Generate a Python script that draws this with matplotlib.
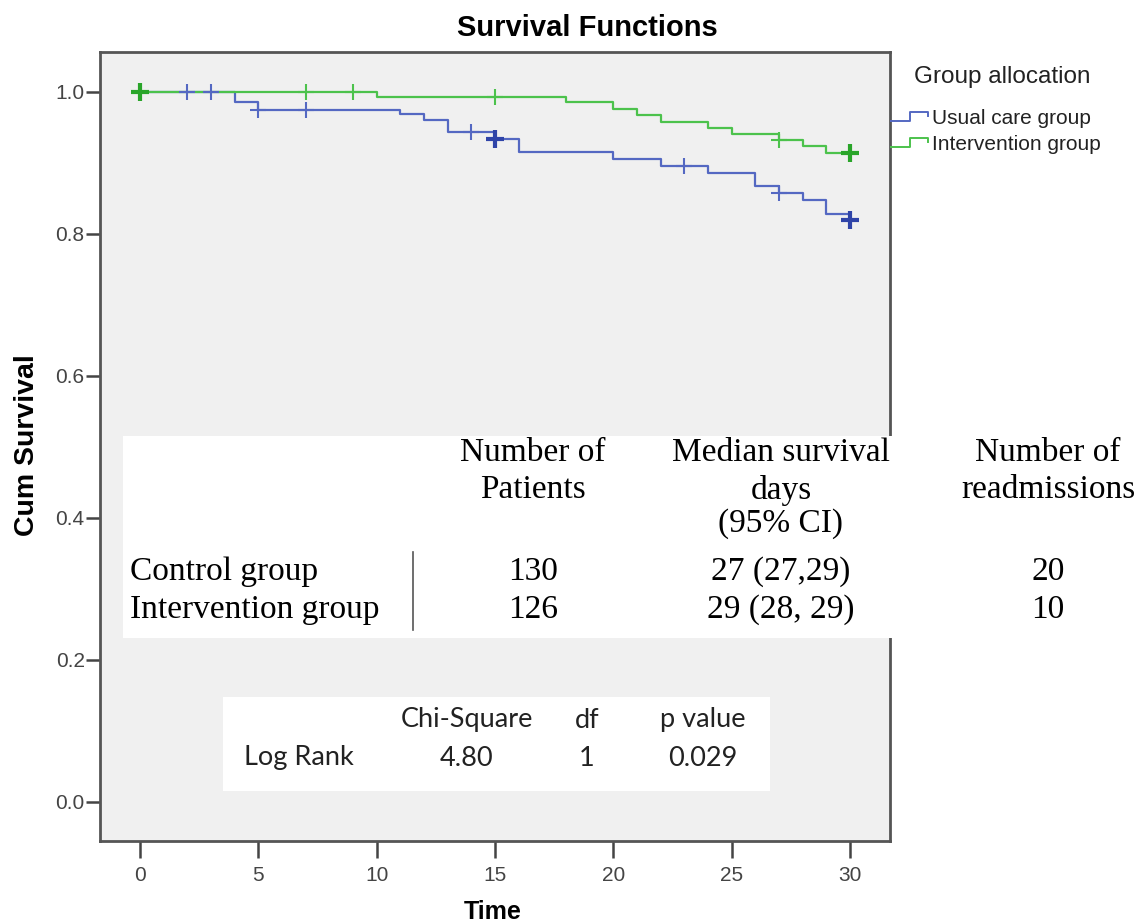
import matplotlib
matplotlib.use("Agg")
import matplotlib.pyplot as plt
from matplotlib.patches import Rectangle
from matplotlib.lines import Line2D

# Kaplan-Meier steps
uc_time = [0, 4, 5, 11, 12, 13, 15, 16, 20, 22, 24, 26, 27, 28, 29, 30]
uc_surv = [1.0, 0.985, 0.975, 0.969, 0.960, 0.943, 0.933, 0.915, 0.905,
           0.896, 0.886, 0.867, 0.857, 0.848, 0.828, 0.820]
uc_cens_t = [2, 3, 5, 7, 14, 23, 27]
uc_cens_s = [1.0, 1.0, 0.975, 0.975, 0.943, 0.896, 0.857]
uc_multi_t = [15, 30]
uc_multi_s = [0.933, 0.820]

iv_time = [0, 10, 18, 20, 21, 22, 24, 25, 27, 28, 29, 30]
iv_surv = [1.0, 0.9925, 0.985, 0.976, 0.967, 0.958, 0.949, 0.941, 0.932,
           0.923, 0.914, 0.914]
iv_cens_t = [7, 9, 15, 27]
iv_cens_s = [1.0, 1.0, 0.9925, 0.932]
iv_multi_t = [0, 30]
iv_multi_s = [1.0, 0.914]

col_heads = [["Number of", "Patients"],
             ["Median survival", "days", "(95% CI)"],
             ["Number of", "readmissions"]]
row_names = ["Control group", "Intervention group"]
n_patients = ["130", "126"]
median_ci = ["27 (27,29)", "29 (28, 29)"]
readmissions = ["20", "10"]

lr_heads = ["Chi-Square", "df", "p value"]
lr_values = ["4.80", "1", "0.029"]

blue = "#5468c2"
blue_dark = "#2f44a8"
green = "#4cc24c"
green_dark = "#2aa52a"

W, H = 1135, 924
def fx(x):
    return x / W
def fy(y):
    return 1 - y / H

sans = ["Liberation Sans", "DejaVu Sans"]
serif = ["Liberation Serif", "DejaVu Serif"]
calib = ["Lato", "DejaVu Sans"]

fig = plt.figure(figsize=(W / 100, H / 100), dpi=100)
ax = fig.add_axes([fx(100), fy(841), fx(890) - fx(100), fy(52) - fy(841)])
ax.set_facecolor("#f0f0f0")

ax.step(uc_time, uc_surv, where="post", color=blue, lw=1.6)
ax.step(iv_time, iv_surv, where="post", color=green, lw=1.6)
ax.plot(uc_cens_t, uc_cens_s, "+", color=blue, ms=12, mew=1.5)
ax.plot(uc_multi_t, uc_multi_s, "+", color=blue_dark, ms=13, mew=3)
ax.plot(iv_cens_t, iv_cens_s, "+", color=green, ms=12, mew=1.5)
ax.plot(iv_multi_t, iv_multi_s, "+", color=green_dark, ms=13, mew=3)

ax.set_xlim(-1.69, 31.69)
ax.set_ylim(-0.055, 1.056)
ax.set_xticks([0, 5, 10, 15, 20, 25, 30])
ax.set_yticks([0.0, 0.2, 0.4, 0.6, 0.8, 1.0])
ax.set_yticklabels(["0.0", "0.2", "0.4", "0.6", "0.8", "1.0"])
ax.tick_params(axis="x", length=12, width=1.8, color="#444444", pad=6,
               labelsize=15, labelcolor="#444444")
ax.tick_params(axis="y", length=10, width=1.8, color="#444444", pad=1,
               labelsize=15, labelcolor="#444444")
for lab in ax.get_xticklabels() + ax.get_yticklabels():
    lab.set_family(sans)
for sp in ax.spines.values():
    sp.set_color("#555555")
    sp.set_linewidth(2)

fig.text(fx(587), fy(28), "Survival Functions", ha="center", va="center",
         fontsize=21, fontweight="bold", family=sans)
fig.text(fx(27), fy(445), "Cum Survival", ha="center", va="center",
         rotation=90, fontsize=20.5, fontweight="bold", family=sans)
fig.text(fx(493), fy(912), "Time", ha="center", va="center",
         fontsize=18, fontweight="bold", family=sans)

# legend outside the plot
fig.text(fx(1002), fy(77), "Group allocation", ha="center", va="center",
         fontsize=17.5, family=sans, color="#222222")
for i, (lab, c) in enumerate([("Usual care group", blue), ("Intervention group", green)]):
    dy = i * 26
    xs = [891, 910, 910, 928, 928]
    ys = [121 + dy, 121 + dy, 112 + dy, 112 + dy, 116 + dy]
    fig.lines.append(Line2D([fx(x) for x in xs], [fy(y) for y in ys],
                            transform=fig.transFigure, color=c, lw=1.4))
    fig.text(fx(932), fy(118 + dy), lab, ha="left", va="center",
             fontsize=15, family=sans, color="#222222")

# summary table box
fig.patches.append(Rectangle((fx(123), fy(638)), fx(1135) - fx(123), fy(436) - fy(638),
                             transform=fig.transFigure, facecolor="white",
                             edgecolor="none", zorder=5))
col_x = [533, 781, 1048]
head_y = [453, 490, 524]
for cx, head in zip(col_x, col_heads):
    for j, line in enumerate(head):
        fig.text(fx(cx), fy(head_y[j]), line, ha="center", va="center",
                 fontsize=24, family=serif, zorder=6)
row_y = [572, 610]
for k in range(2):
    fig.text(fx(130), fy(row_y[k]), row_names[k], ha="left", va="center",
             fontsize=24, family=serif, zorder=6)
    for cx, val in zip(col_x, [n_patients[k], median_ci[k], readmissions[k]]):
        fig.text(fx(cx), fy(row_y[k]), val, ha="center", va="center",
                 fontsize=24, family=serif, zorder=6)
fig.lines.append(Line2D([fx(413), fx(413)], [fy(552), fy(630)],
                        transform=fig.transFigure, color="#555555", lw=1.2, zorder=6))

# log rank box
fig.patches.append(Rectangle((fx(223), fy(791)), fx(770) - fx(223), fy(697) - fy(791),
                             transform=fig.transFigure, facecolor="white",
                             edgecolor="none", zorder=5))
lr_x = [467, 587, 703]
for cx, h, v in zip(lr_x, lr_heads, lr_values):
    fig.text(fx(cx), fy(720), h, ha="center", va="center",
             fontsize=19.5, family=calib, zorder=6, color="#222222")
    fig.text(fx(cx), fy(758), v, ha="center", va="center",
             fontsize=19.5, family=calib, zorder=6, color="#222222")
fig.text(fx(244), fy(758), "Log Rank", ha="left", va="center",
         fontsize=19.5, family=calib, zorder=6, color="#222222")

fig.savefig("out.png", dpi=100)
